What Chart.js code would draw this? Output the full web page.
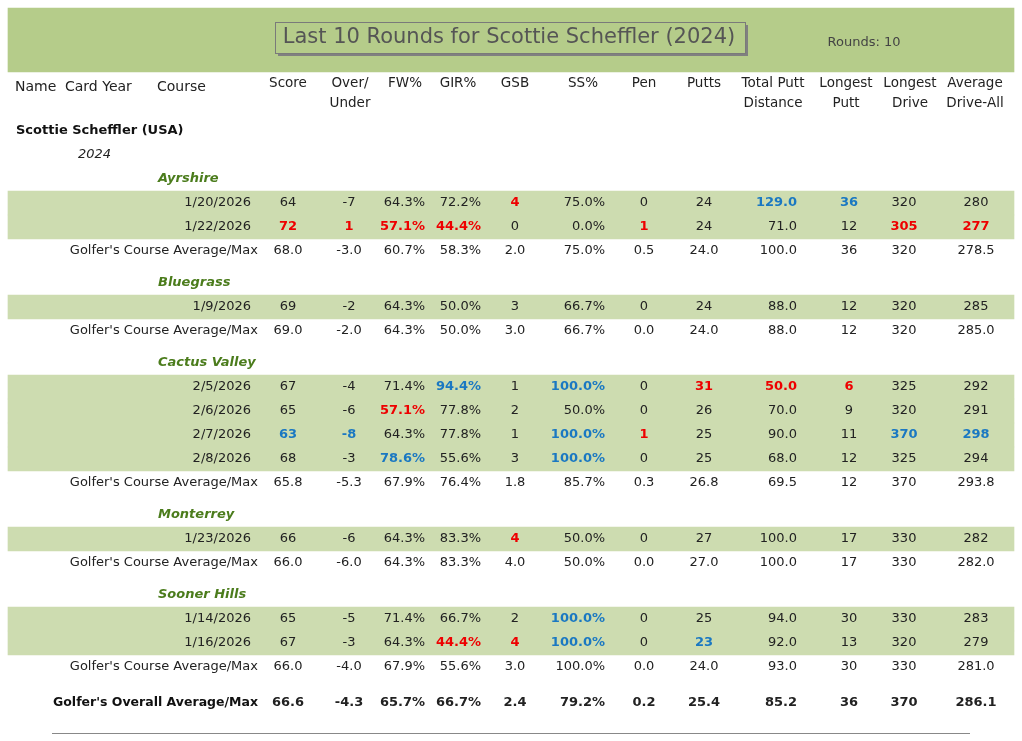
<!DOCTYPE html>
<html><head><meta charset="utf-8">
<script src="https://cdn.jsdelivr.net/npm/chart.js@4"></script>
<style>html,body{margin:0;background:#fff}#c{display:block}</style>
</head><body>
<div style="width:1022px;height:741px"><canvas id="c"></canvas></div>
<script>
// Last 10 rounds table, drawn on a Chart.js canvas
const FONT = '"DejaVu Sans", sans-serif';
const RED = '#ee0000', BLUE = '#1a78c2', INK = '#222';

const courses      = ['Ayrshire', 'Bluegrass', 'Cactus Valley', 'Monterrey', 'Sooner Hills'];
const roundCourse  = [0, 0, 1, 2, 2, 2, 2, 3, 4, 4];
const dates        = ['1/20/2026','1/22/2026','1/9/2026','2/5/2026','2/6/2026','2/7/2026','2/8/2026','1/23/2026','1/14/2026','1/16/2026'];
const score        = [64, 72, 69, 67, 65, 63, 68, 66, 65, 67];
const overUnder    = [-7, 1, -2, -4, -6, -8, -3, -6, -5, -3];
const fwPct        = ['64.3%','57.1%','64.3%','71.4%','57.1%','64.3%','78.6%','64.3%','71.4%','64.3%'];
const girPct       = ['72.2%','44.4%','50.0%','94.4%','77.8%','77.8%','55.6%','83.3%','66.7%','44.4%'];
const gsb          = [4, 0, 3, 1, 2, 1, 3, 4, 2, 4];
const ssPct        = ['75.0%','0.0%','66.7%','100.0%','50.0%','100.0%','100.0%','50.0%','100.0%','100.0%'];
const pen          = [0, 1, 0, 0, 0, 1, 0, 0, 0, 0];
const putts        = [24, 24, 24, 31, 26, 25, 25, 27, 25, 23];
const puttDist     = ['129.0','71.0','88.0','50.0','70.0','90.0','68.0','100.0','94.0','92.0'];
const longestPutt  = [36, 12, 12, 6, 9, 11, 12, 17, 30, 13];
const longestDrive = [320, 305, 320, 325, 320, 370, 325, 330, 330, 320];
const avgDrive     = [280, 277, 285, 292, 291, 298, 294, 282, 283, 279];
// highlighted cells per round: column index -> 'r' (worst) / 'b' (best)
const highlights = [
  {4:'r', 8:'b', 9:'b'},
  {0:'r', 1:'r', 2:'r', 3:'r', 6:'r', 10:'r', 11:'r'},
  {},
  {3:'b', 5:'b', 7:'r', 8:'r', 9:'r'},
  {2:'r'},
  {0:'b', 1:'b', 5:'b', 6:'r', 10:'b', 11:'b'},
  {2:'b', 5:'b'},
  {4:'r'},
  {5:'b'},
  {3:'r', 4:'r', 5:'b', 7:'b'}
];
const courseAverages = [
  ['68.0','-3.0','60.7%','58.3%','2.0','75.0%','0.5','24.0','100.0','36','320','278.5'],
  ['69.0','-2.0','64.3%','50.0%','3.0','66.7%','0.0','24.0','88.0','12','320','285.0'],
  ['65.8','-5.3','67.9%','76.4%','1.8','85.7%','0.3','26.8','69.5','12','370','293.8'],
  ['66.0','-6.0','64.3%','83.3%','4.0','50.0%','0.0','27.0','100.0','17','330','282.0'],
  ['66.0','-4.0','67.9%','55.6%','3.0','100.0%','0.0','24.0','93.0','30','330','281.0']
];
const overallAverage = ['66.6','-4.3','65.7%','66.7%','2.4','79.2%','0.2','25.4','85.2','36','370','286.1'];

const headers = [['Score'],['Over/','Under'],['FW%'],['GIR%'],['GSB'],['SS%'],['Pen'],['Putts'],
  ['Total Putt','Distance'],['Longest','Putt'],['Longest','Drive'],['Average','Drive-All']];
// column anchor x and alignment
const colX     = [288, 349, 425, 481, 515, 605, 644, 704, 797, 849, 904, 976];
const colAlign = ['center','center','right','right','center','right','center','center','right','center','center','center'];
const headX    = [288, 350, 405, 458, 515, 583, 644, 704, 773, 846, 910, 975];

// build row list (y positions in table units)
const rows = [];
let y = 131;
rows.push({type:'name', y}); y += 24;
rows.push({type:'year', y}); y += 24;
courses.forEach((c, ci) => {
  if (ci > 0) y += 8;
  rows.push({type:'course', y, ci}); y += 24;
  roundCourse.forEach((rc, ri) => { if (rc === ci) { rows.push({type:'round', y, ri}); y += 24; } });
  rows.push({type:'avg', y, ci}); y += 24;
});
y += 12;
rows.push({type:'overall', y});

const roundRows = rows.filter(r => r.type === 'round');

const tablePlugin = {
  id: 'table',
  afterDatasetsDraw(chart) {
    const {ctx, scales: {x: sx, y: sy}} = chart;
    const X = v => sx.getPixelForValue(v), Y = v => sy.getPixelForValue(v);
    const txt = (s, x, y, align, font, color) => {
      ctx.font = font; ctx.fillStyle = color; ctx.textAlign = align; ctx.textBaseline = 'middle';
      ctx.fillText(s, X(x), Y(y));
    };
    ctx.save();
    // title
    ctx.fillStyle = '#808080'; ctx.fillRect(X(278), Y(25), X(748) - X(278), Y(56) - Y(25));
    ctx.fillStyle = '#b5cc8a'; ctx.fillRect(X(275), Y(22), X(745) - X(275), Y(53) - Y(22));
    ctx.strokeStyle = '#7a7a7a'; ctx.lineWidth = 1; ctx.strokeRect(X(275) + .5, Y(22) + .5, X(745) - X(275), Y(53) - Y(22));
    txt('Last 10 Rounds for Scottie Scheffler (2024)', 509, 38, 'center', '21px ' + FONT, '#555');
    txt('Rounds: 10', 864, 43, 'center', '13px ' + FONT, '#444');
    // column headers
    const hf = '14px ' + FONT;
    txt('Name', 15, 87, 'left', hf, INK);
    txt('Card Year', 65, 87, 'left', hf, INK);
    txt('Course', 157, 87, 'left', hf, INK);
    headers.forEach((h, i) => h.forEach((line, k) => txt(line, headX[i], 83 + k * 20, 'center', '13.5px ' + FONT, INK)));
    const cellFont = '13px ' + FONT, boldFont = 'bold 13px ' + FONT;
    const cells = (vals, ry, hi, bold) => vals.forEach((v, i) => {
      const h = hi && hi[i];
      txt(String(v), colX[i], ry, colAlign[i], (h || bold) ? boldFont : cellFont, h === 'r' ? RED : h === 'b' ? BLUE : INK);
    });
    rows.forEach(r => {
      if (r.type === 'name') txt('Scottie Scheffler (USA)', 16, r.y, 'left', boldFont, '#111');
      else if (r.type === 'year') txt('2024', 78, r.y, 'left', 'italic 13px ' + FONT, INK);
      else if (r.type === 'course') txt(courses[r.ci], 158, r.y, 'left', 'italic bold 13px ' + FONT, '#4b7c1c');
      else if (r.type === 'round') {
        const i = r.ri;
        txt(dates[i], 251, r.y, 'right', cellFont, INK);
        cells([score[i], overUnder[i], fwPct[i], girPct[i], gsb[i], ssPct[i], pen[i], putts[i],
               puttDist[i], longestPutt[i], longestDrive[i], avgDrive[i]], r.y, highlights[i], false);
      } else if (r.type === 'avg') {
        txt("Golfer's Course Average/Max", 258, r.y, 'right', cellFont, INK);
        cells(courseAverages[r.ci], r.y, null, false);
      } else if (r.type === 'overall') {
        txt("Golfer's Overall Average/Max", 258, r.y, 'right', 'bold 12.5px ' + FONT, '#111');
        cells(overallAverage, r.y, null, true);
      }
    });
    ctx.strokeStyle = '#888'; ctx.beginPath();
    ctx.moveTo(X(52), Y(733) + .5); ctx.lineTo(X(970), Y(733) + .5); ctx.stroke();
    ctx.restore();
  }
};

new Chart(document.getElementById('c'), {
  type: 'bar',
  data: {
    datasets: [
      { data: [{y: 40, x: [8, 1014]}], backgroundColor: '#b5cc8a', barThickness: 64, grouped: false },
      { data: roundRows.map(r => ({y: r.y, x: [8, 1014]})), backgroundColor: '#cddcb0', barThickness: 24, grouped: false }
    ]
  },
  options: {
    indexAxis: 'y',
    responsive: true, maintainAspectRatio: false, animation: false,
    layout: { padding: 0 },
    scales: {
      x: { type: 'linear', min: 0, max: 1022, display: false, offset: false },
      y: { type: 'linear', min: 0, max: 741, reverse: true, display: false, offset: false }
    },
    plugins: { legend: { display: false }, tooltip: { enabled: false } }
  },
  plugins: [tablePlugin]
});
</script>
</body></html>
